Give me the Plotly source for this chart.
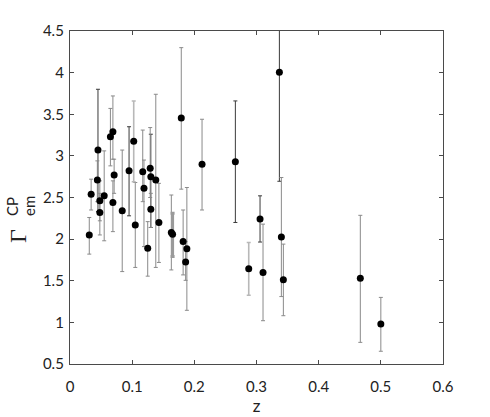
import plotly.graph_objects as go

# ---- data ----
z = [0.031, 0.034, 0.044, 0.045, 0.048, 0.048, 0.055, 0.065, 0.069, 0.071,
     0.069, 0.084, 0.095, 0.1025, 0.105, 0.117, 0.119, 0.125, 0.129, 0.130,
     0.130, 0.138, 0.143, 0.163, 0.165, 0.179, 0.182, 0.186, 0.188, 0.2124,
     0.266, 0.2875, 0.3057, 0.3105, 0.3368, 0.340, 0.3432, 0.467, 0.500]
gamma = [2.05, 2.54, 2.71, 3.07, 2.46, 2.32, 2.52, 3.23, 3.29, 2.77,
         2.44, 2.34, 2.82, 3.175, 2.17, 2.81, 2.61, 1.89, 2.85, 2.75,
         2.36, 2.71, 2.20, 2.08, 2.06, 3.455, 1.97, 1.725, 1.885, 2.90,
         2.93, 1.645, 2.242, 1.60, 4.004, 2.025, 1.513, 1.53, 0.98]
upper = [2.26, 2.72, 2.94, 3.80, 2.70, 2.55, 3.06, 3.57, 3.72, 2.96,
         2.70, 3.07, 3.35, 3.66, 2.68, 3.31, 2.95, 2.21, 3.34, 3.26,
         2.55, 3.74, 2.67, 2.53, 2.31, 4.30, 2.35, 1.97, 2.62, 3.44,
         3.66, 1.96, 2.52, 2.18, 5.20, 2.74, 1.94, 2.286, 1.30]
lower = [1.82, 2.35, 2.45, 2.33, 2.22, 2.05, 1.98, 2.88, 2.96, 2.55,
         2.09, 1.61, 2.28, 2.69, 1.66, 2.45, 1.91, 1.555, 2.50, 2.14,
         2.14, 1.66, 1.72, 1.63, 1.79, 2.60, 1.57, 1.505, 1.145, 2.35,
         2.20, 1.325, 1.965, 1.02, 2.695, 1.31, 1.08, 0.76, 0.653]
x_ticks = [0, 0.1, 0.2, 0.3, 0.4, 0.5, 0.6]
y_ticks = [0.5, 1, 1.5, 2, 2.5, 3, 3.5, 4, 4.5]

# ---- styling: error-bar shade group per point ----
shade = ["m", "m", "m", "d", "m", "m", "m", "m", "m", "m",
         "m", "m", "d", "l", "m", "m", "m", "m", "m", "d",
         "m", "m", "m", "m", "t", "m", "m", "m", "m", "m",
         "d", "l", "d", "m", "d", "m", "m", "m", "m"]
shade_style = {
    "d": ("#3a3a3a", 1.0),
    "m": ("#8a8a8a", 1.0),
    "l": ("#b8b8b8", 1.6),
    "t": ("#9a9a9a", 3.0),
}

fig = go.Figure()
for key, (col, th) in shade_style.items():
    idx = [i for i, s in enumerate(shade) if s == key]
    if not idx:
        continue
    fig.add_trace(go.Scatter(
        x=[z[i] for i in idx],
        y=[gamma[i] for i in idx],
        mode="markers",
        marker=dict(size=1, color="rgba(0,0,0,0)"),
        error_y=dict(
            type="data", symmetric=False,
            array=[upper[i] - gamma[i] for i in idx],
            arrayminus=[gamma[i] - lower[i] for i in idx],
            color=col, thickness=th, width=2,
        ),
        showlegend=False, hoverinfo="skip",
    ))

fig.add_trace(go.Scatter(
    x=z, y=gamma, mode="markers",
    marker=dict(size=7, color="black"),
    showlegend=False,
))

axis_common = dict(
    showgrid=False, zeroline=False, automargin=False,
    showline=True, linecolor="#4a4a4a", linewidth=1.3, mirror="ticks",
    ticks="inside", ticklen=4, tickcolor="#4a4a4a", tickwidth=1,
    tickfont=dict(family="Lato, Open Sans, sans-serif", size=15, color="#222222"),
)

fig.update_xaxes(range=[0, 0.6], tickvals=x_ticks,
                 ticktext=[("%g" % v) for v in x_ticks],
                 ticklabelstandoff=9,
                 title=dict(text="z", font=dict(family="Lato, sans-serif", size=17, color="#222222"),
                            standoff=4),
                 **axis_common)
fig.update_yaxes(range=[0.5, 4.5], tickvals=y_ticks,
                 ticktext=[("%g" % v) for v in y_ticks],
                 ticklabelstandoff=2,
                 **axis_common)

# y-axis title: Γ with stacked CP superscript / em subscript (rotated)
WIN_TOP, WIN_BOT = 31, 364  # pixel extents of the plot area
def ypaper(py):
    return (WIN_BOT - py) / (WIN_BOT - WIN_TOP)

PLOT_LEFT = 70  # pixel of x = 0
def ann(text, px, py, size, family):
    fig.add_annotation(text=text, xref="paper", yref="paper", x=0, y=ypaper(py),
                       xshift=px - PLOT_LEFT, xanchor="center", yanchor="middle",
                       textangle=-90, showarrow=False,
                       font=dict(family=family, size=size, color="#222222"))

ann("Γ", 18, 236, 24, "Liberation Serif, serif")
ann("CP", 12, 207, 15, "Lato, sans-serif")
ann("em", 29, 206, 15, "Lato, sans-serif")

fig.update_layout(
    width=490, height=417,
    margin=dict(l=70, r=47, t=31, b=53),
    paper_bgcolor="white", plot_bgcolor="white",
)

fig.write_html("out.html", config={"displayModeBar": False},
               post_script="document.body.style.margin='0';")
